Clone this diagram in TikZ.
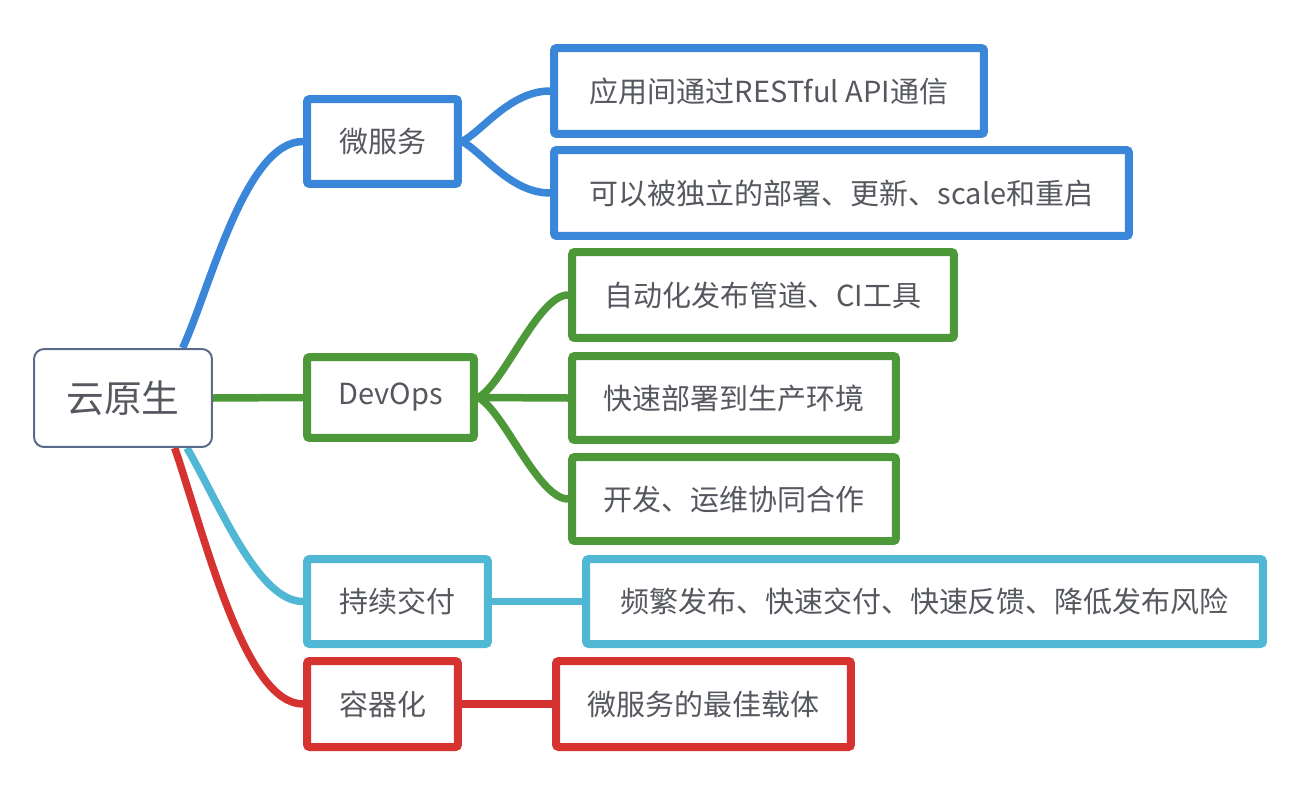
\documentclass[tikz,border=0pt]{standalone}
\usepackage{fontspec}
\setmainfont{Noto Sans CJK SC}
\usepackage{tikz}
\usetikzlibrary{backgrounds}
\definecolor{cblue}{RGB}{58,135,218}
\definecolor{cgreen}{RGB}{77,153,57}
\definecolor{ccyan}{RGB}{80,184,212}
\definecolor{cred}{RGB}{214,50,48}
\definecolor{croot}{RGB}{92,106,138}
\definecolor{ctext}{RGB}{85,88,94}
\tikzstyle{rootbox}=[rectangle,draw=croot,line width=0.04cm,rounded corners=0.2cm,fill=white,text=ctext,font=\fontsize{21.5}{25}\selectfont,inner sep=0pt,minimum width=3.56cm,minimum height=1.96cm]
\tikzstyle{box}=[rectangle,draw,line width=0.16cm,rounded corners=1.5pt,fill=white,text=ctext,font=\fontsize{16.5}{19}\selectfont,inner sep=0pt,minimum height=1.72cm]
\tikzstyle{link}=[line width=0.15cm]

\begin{document}
\begin{tikzpicture}[x=0.02cm,y=-0.02cm]
\useasboundingbox (0,0) rectangle (1300,794);
\node[rootbox] (root) at (123,398) {云原生};
% first level
\node[box,draw=cblue,minimum width=3.02cm,minimum height=1.70cm] (ms) at (382.5,141.5) {微服务};
\node[box,draw=cgreen,minimum width=3.34cm,minimum height=1.62cm] (dev) at (390.5,397.5) {DevOps};
\node[box,draw=ccyan,minimum width=3.62cm,minimum height=1.70cm] (cd) at (397.5,601.5) {持续交付};
\node[box,draw=cred,minimum width=3.02cm] (ctr) at (382.5,704) {容器化};
% second level
\node[box,draw=cblue,minimum width=8.60cm] (ms1) at (769,91) {应用间通过RESTful API通信};
\node[box,draw=cblue,minimum width=11.50cm] (ms2) at (841.5,193) {可以被独立的部署、更新、scale和重启};
\node[box,draw=cgreen,minimum width=7.64cm] (dev1) at (763,295) {自动化发布管道、CI工具};
\node[box,draw=cgreen,minimum width=6.48cm,minimum height=1.68cm] (dev2) at (734,398) {快速部署到生产环境};
\node[box,draw=cgreen,minimum width=6.48cm,minimum height=1.68cm] (dev3) at (734,499) {开发、运维协同合作};
\node[box,draw=ccyan,minimum width=13.54cm,minimum height=1.70cm] (cd1) at (924.5,601.5) {频繁发布、快速交付、快速反馈、降低发布风险};
\node[box,draw=cred,minimum width=5.90cm] (ctr1) at (703.5,704) {微服务的最佳载体};
\begin{scope}[on background layer]
\draw[link,cblue] (root.40) .. controls +(27,-58) and +(-58,0) .. (ms.west);
\draw[link,cgreen] (root.east) -- (dev.west);
\draw[link,ccyan] (root.-38) .. controls +(33,57) and +(-45,0) .. (cd.west);
\draw[link,cred] (root.-44) .. controls +(31,92) and +(-58,0) .. (ctr.west);
\draw[link,cblue] (ms.east) .. controls +(20,-10) and +(-40,0) .. (ms1.west);
\draw[link,cblue] (ms.east) .. controls +(20,10) and +(-40,0) .. (ms2.west);
\draw[link,cgreen] (dev.east) .. controls +(25,-12) and +(-30,0) .. (dev1.west);
\draw[link,cgreen] (dev.east) -- (dev2.west);
\draw[link,cgreen] (dev.east) .. controls +(25,12) and +(-30,0) .. (dev3.west);
\draw[link,ccyan] (cd.east) -- (cd1.west);
\draw[link,cred] (ctr.east) -- (ctr1.west);
\end{scope}
\end{tikzpicture}
\end{document}
